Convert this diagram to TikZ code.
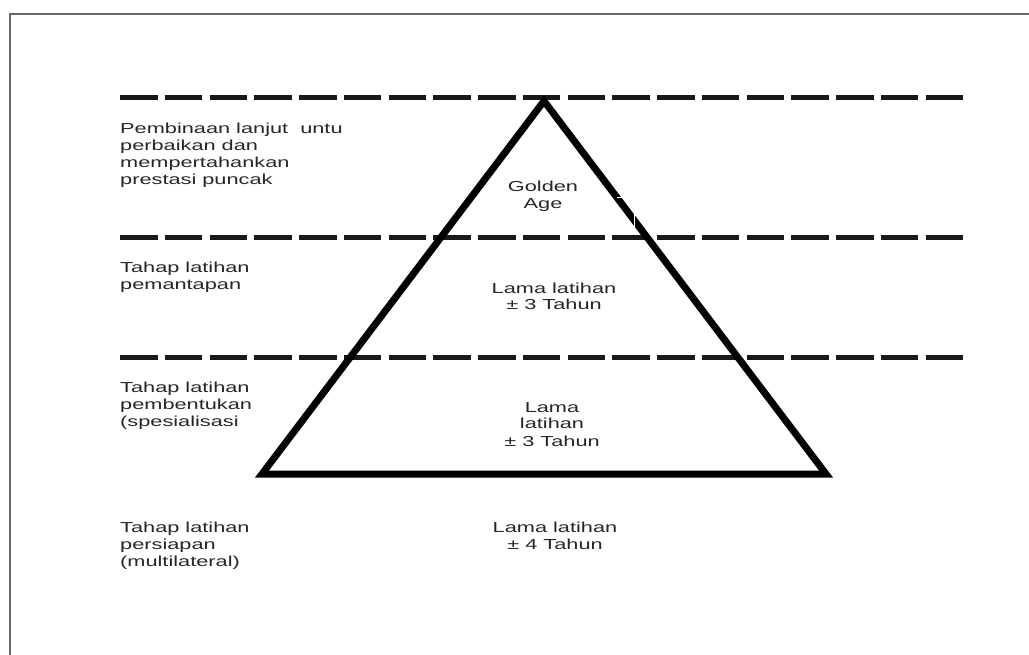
\documentclass[tikz,border=0pt]{standalone}
\usepackage{fontspec}
\setmainfont[FakeStretch=1.5]{Liberation Sans}
\begin{document}
\begin{tikzpicture}[x=1pt,y=-1pt,
  level/.style={line width=5pt,dash pattern=on 37.5pt off 7.25pt,color=black!90},
  pyramid/.style={line width=7pt,line join=miter,color=black},
  lbl/.style={inner sep=0pt,text=black!85,font=\fontsize{14.5}{17}\selectfont},
  leftlbl/.style={lbl,anchor=base west,align=left},
  midlbl/.style={lbl,anchor=base,align=center},
  frameline/.style={line width=1.5pt,color=black!60}]
\useasboundingbox (0,0) rectangle (1029,655);
% frame
\draw[frameline] (1035,14) -- (10,14) -- (10,660);
% level lines
\coordinate (l1a) at (120,98);  \coordinate (l1b) at (963,98);
\coordinate (l2a) at (120,238); \coordinate (l2b) at (963,238);
\coordinate (l3a) at (120,357); \coordinate (l3b) at (963,357);
\draw[level] (l1a) -- (l1b);
\draw[level] (l2a) -- (l2b);
\draw[level] (l3a) -- (l3b);
% pyramid
\coordinate (apex) at (544,101);
\coordinate (bl) at (262,474);
\coordinate (br) at (826,474);
\draw[pyramid] (apex) -- (br) -- (bl) -- cycle;
% white artifact
\draw[white,line width=1pt] (617,198) -- (634,198) -- (634,227);
% left labels (base anchor = last line's baseline)
\node[leftlbl] (t1) at (120,185) {Pembinaan lanjut\hspace{6pt} untu\\perbaikan dan\\mempertahankan\\prestasi puncak};
\node[leftlbl] (t2) at (120,290) {Tahap latihan\\pemantapan};
\node[leftlbl] (t3) at (120,426) {Tahap latihan\\pembentukan\\(spesialisasi};
\node[leftlbl] (t4) at (120,566) {Tahap latihan\\persiapan\\(multilateral)};
% middle labels
\node[midlbl] (m1) at (543,209) {Golden\\Age};
\node[midlbl] (m2) at (554,310) {Lama latihan\\± 3 Tahun};
\node[midlbl] (m3) at (552,446) {Lama\\latihan\\± 3 Tahun};
\node[midlbl] (m4) at (555,549) {Lama latihan\\± 4 Tahun};
\end{tikzpicture}
\end{document}
